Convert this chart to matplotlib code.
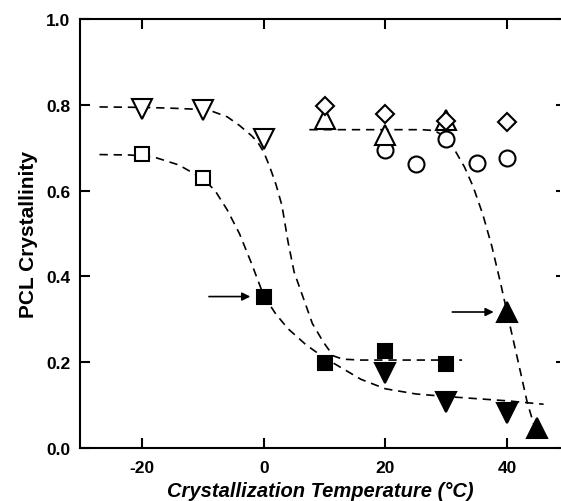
import matplotlib
matplotlib.use("Agg")
import matplotlib.pyplot as plt

plt.rcParams['font.family'] = ['Liberation Sans', 'DejaVu Sans']
plt.rcParams['axes.unicode_minus'] = False

# measured points
open_down_x = [-20, -10, 0]
open_down_y = [0.790, 0.788, 0.720]
open_sq_x = [-20, -10]
open_sq_y = [0.685, 0.630]
filled_sq_x = [0, 10, 20, 30]
filled_sq_y = [0.352, 0.197, 0.226, 0.196]
filled_down_x = [20, 30, 40]
filled_down_y = [0.175, 0.107, 0.082]
open_up_x = [10, 20, 30]
open_up_y = [0.767, 0.730, 0.765]
diamond_x = [10, 20, 30, 40]
diamond_y = [0.797, 0.779, 0.762, 0.760]
circle_x = [20, 25, 30, 35, 40]
circle_y = [0.695, 0.662, 0.720, 0.664, 0.676]
filled_up_x = [40, 45]
filled_up_y = [0.317, 0.047]

# dashed fit curves
fitA_x = [-27, -20, -15, -10, -8.5, -6, -4, -2, -1, 0, 1, 2, 3, 4, 5, 6.5, 8, 9.8, 11.4, 13, 16, 20, 25, 32.6]
fitA_y = [0.795, 0.794, 0.792, 0.789, 0.785, 0.772, 0.752, 0.728, 0.713, 0.690, 0.655, 0.615, 0.565, 0.48, 0.41, 0.35, 0.29, 0.247, 0.215, 0.207, 0.205, 0.205, 0.205, 0.205]
fitB_x = [-27, -22, -18, -14, -10, -8, -6, -4, -2, 0, 2, 4, 7, 10, 13, 16, 20, 25, 30, 35, 40, 46]
fitB_y = [0.684, 0.683, 0.678, 0.660, 0.628, 0.600, 0.555, 0.500, 0.430, 0.355, 0.312, 0.278, 0.240, 0.210, 0.185, 0.160, 0.138, 0.126, 0.120, 0.115, 0.110, 0.102]
fitC_x = [7.5, 15, 20, 26, 28, 30, 31.5, 33, 34.4, 36, 37.5, 39, 40.5, 42, 43.3, 44.6]
fitC_y = [0.742, 0.742, 0.742, 0.742, 0.740, 0.725, 0.692, 0.655, 0.610, 0.545, 0.470, 0.38, 0.284, 0.19, 0.107, 0.045]

arrow_tips_x = [0, 40]
arrow_tips_y = [0.353, 0.317]

fig = plt.figure(figsize=(5.61, 5.02), dpi=100)
ax = fig.add_axes([80 / 561, 53 / 502, 480 / 561, 429 / 502])

dash = dict(color='black', lw=1.2, dashes=(5, 3.5))
ax.plot(fitA_x, fitA_y, **dash)
ax.plot(fitB_x, fitB_y, **dash)
ax.plot(fitC_x, fitC_y, **dash)

mk = dict(ls='none', color='black', mec='black', mew=1.5)
ax.plot(circle_x, circle_y, marker='o', ms=11.5, mfc='white', **mk)
ax.plot(open_up_x, open_up_y, marker='^', ms=14, mfc='white', **mk)
ax.plot(diamond_x, diamond_y, marker='D', ms=9, mfc='white', **mk)
ax.plot(open_down_x, open_down_y, marker='v', ms=14, mfc='white', **mk)
ax.plot(open_sq_x, open_sq_y, marker='s', ms=10.5, mfc='white', **mk)
ax.plot(filled_down_x, filled_down_y, marker='v', ms=14, mfc='black', **mk)
ax.plot(filled_sq_x, filled_sq_y, marker='s', ms=10.5, mfc='black', **mk)
ax.plot(filled_up_x, filled_up_y, marker='^', ms=14, mfc='black', **mk)

for tx, ty in zip(arrow_tips_x, arrow_tips_y):
    ax.annotate('', xy=(tx - 2.2, ty), xytext=(tx - 9, ty),
                arrowprops=dict(arrowstyle='-|>', lw=1.2, color='black',
                                mutation_scale=12, shrinkA=0, shrinkB=0))

ax.set_xlim(-30.2, 48.7)
ax.set_ylim(0, 1.0)
ax.set_xticks([-20, 0, 20, 40])
ax.set_xticklabels(['-20', '0', '20', '40'])
ax.set_yticks([0.0, 0.2, 0.4, 0.6, 0.8, 1.0])
ax.set_yticklabels(['0.0', '0.2', '0.4', '0.6', '0.8', '1.0'])

for s in ['left', 'bottom', 'top']:
    ax.spines[s].set_linewidth(1.5)
ax.spines['right'].set_visible(False)

ax.tick_params(axis='x', which='both', direction='in', top=True, length=7, width=1.5, pad=9)
ax.tick_params(axis='y', which='both', direction='in', length=7, width=1.5, pad=7)
ax.tick_params(axis='y', which='both', right=True)
for t in ax.yaxis.get_ticklines()[1::2]:
    t.set_markersize(3)
for lab in ax.get_xticklabels() + ax.get_yticklabels():
    lab.set_fontsize(12.5)
    lab.set_fontweight('bold')

ax.set_xlabel('Crystallization Temperature (°C)', fontsize=14.5, fontweight='bold',
              fontstyle='italic', labelpad=4)
ax.set_ylabel('PCL Crystallinity', fontsize=15, fontweight='bold', labelpad=6)

fig.savefig('out.png', dpi=100)
